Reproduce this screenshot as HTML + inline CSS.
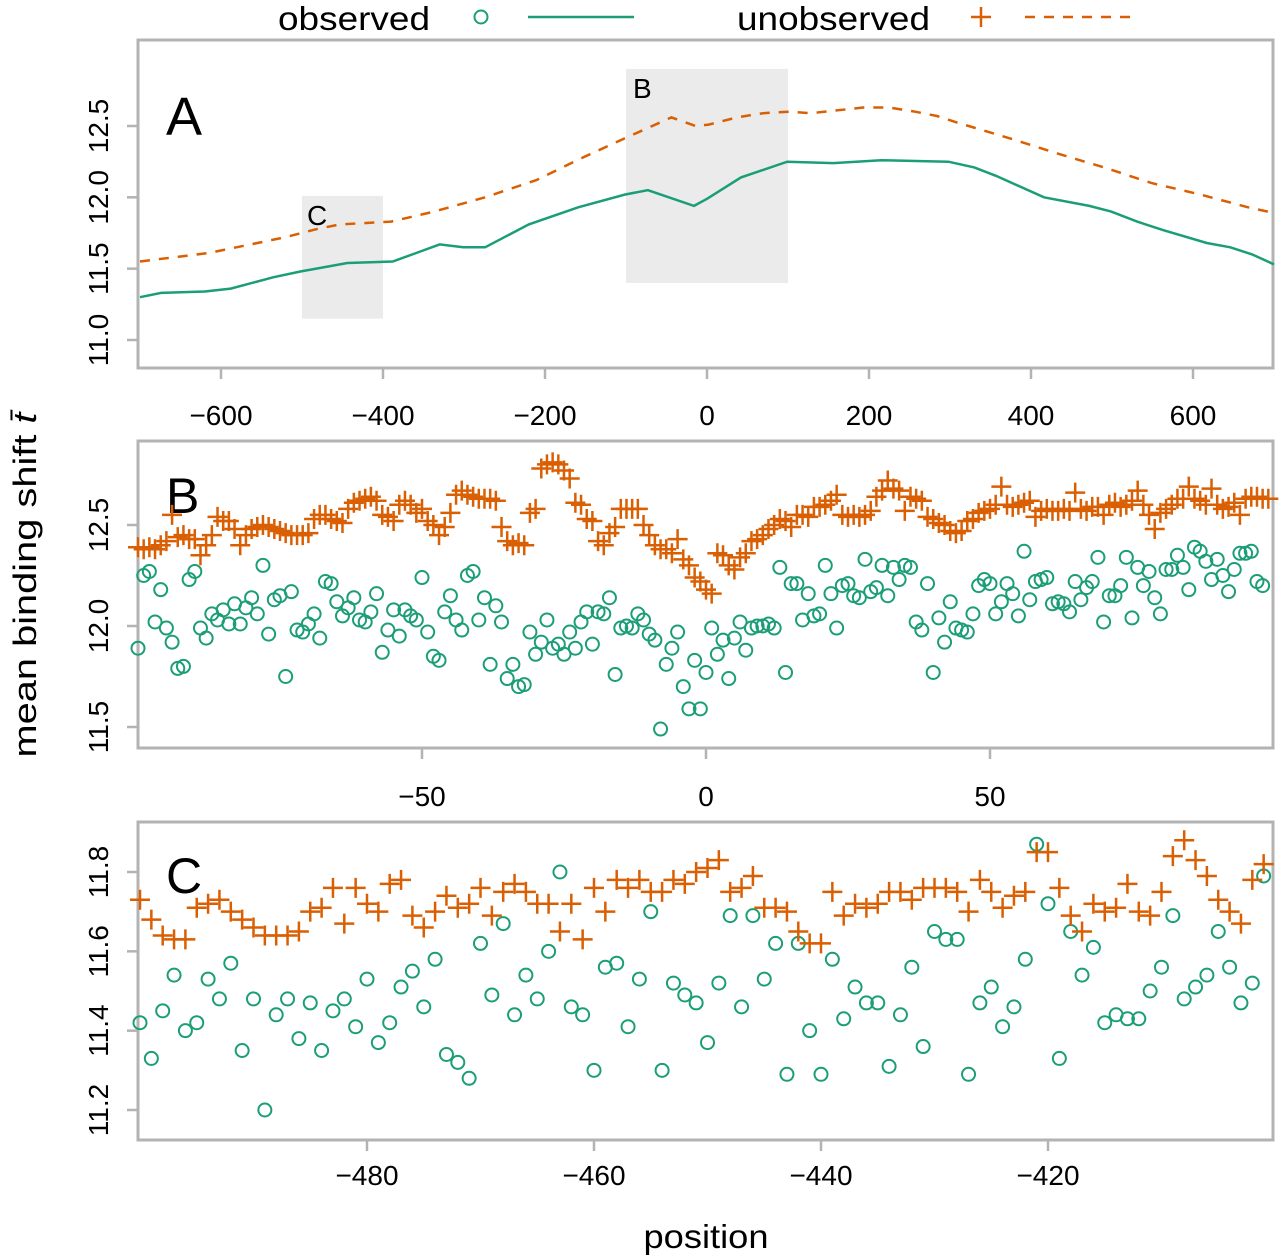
<!DOCTYPE html>
<html><head><meta charset="utf-8"><style>
html,body{margin:0;padding:0;background:#fff;}
svg{display:block;font-family:"Liberation Sans",Arial,sans-serif;}
</style></head><body>
<svg id="chart" width="1280" height="1260" viewBox="0 0 1280 1260" xmlns="http://www.w3.org/2000/svg">
<g id="legend">
  <text x="278" y="30" font-size="33" textLength="152" lengthAdjust="spacingAndGlyphs">observed</text>
  <circle cx="481" cy="17" r="6.5" fill="none" stroke="#1b9e77" stroke-width="2"/>
  <line x1="528" y1="17" x2="634" y2="17" stroke="#1b9e77" stroke-width="2.5"/>
  <text x="737" y="30" font-size="33" textLength="193" lengthAdjust="spacingAndGlyphs">unobserved</text>
  <path d="M971 17H991M981 7V27" stroke="#d95f02" stroke-width="2.5"/>
  <line x1="1025" y1="17" x2="1135" y2="17" stroke="#d95f02" stroke-width="2.5" stroke-dasharray="10,9"/>
</g>
<text transform="translate(36,585) rotate(-90)" text-anchor="middle" font-size="32" textLength="345" lengthAdjust="spacingAndGlyphs">mean binding shift <tspan font-style="italic">t̄</tspan></text>
<text x="706" y="1248" text-anchor="middle" font-size="33" textLength="125" lengthAdjust="spacingAndGlyphs">position</text>
</svg>
<script>
// ---------- Panel A data ----------
const obsAPos = [-700,-674,-620,-588,-535,-502,-444,-388,-359,-330,-301,-274,-220,-159,-101,-73,-16,0,42,99,156,215,298,330,357,416,472,499,531,563,617,646,673,700];
const obsAVal = [11.30,11.33,11.34,11.36,11.44,11.48,11.54,11.55,11.61,11.67,11.65,11.65,11.81,11.93,12.02,12.05,11.94,11.99,12.14,12.25,12.24,12.26,12.25,12.21,12.15,12.00,11.94,11.90,11.83,11.77,11.68,11.65,11.60,11.53];
const unobsAPos = [-700,-615,-521,-480,-453,-390,-337,-274,-211,-153,-99,-44,-14,2,37,69,101,128,193,225,257,284,311,370,431,490,549,609,668,700];
const unobsAVal = [11.55,11.61,11.72,11.78,11.81,11.83,11.90,12.00,12.12,12.28,12.42,12.56,12.50,12.51,12.56,12.59,12.60,12.59,12.63,12.63,12.60,12.57,12.52,12.42,12.31,12.21,12.10,12.02,11.93,11.89];
const aXTicks = [-600,-400,-200,0,200,400,600];
const aYTicks = [11.0,11.5,12.0,12.5];
// ---------- Panel B data (positions -100..99) ----------
const bStart = -100;
const obsBVal = [11.89,12.25,12.27,12.02,12.18,11.99,11.92,11.79,11.80,12.23,12.27,11.99,11.94,12.06,12.03,12.08,12.01,12.11,12.01,12.09,12.14,12.06,12.30,11.96,12.13,12.15,11.75,12.17,11.98,11.97,12.01,12.06,11.94,12.22,12.21,12.12,12.05,12.09,12.14,12.03,12.02,12.07,12.16,11.87,11.98,12.08,11.95,12.08,12.05,
12.03,12.24,11.97,11.85,11.83,12.07,12.15,12.03,11.98,12.25,12.27,12.03,12.14,11.81,12.10,12.02,11.74,11.81,11.70,11.71,11.97,11.86,11.92,12.03,11.89,11.91,11.86,11.97,11.89,12.02,12.07,11.91,12.07,12.06,12.14,11.76,11.99,12.00,11.99,12.06,12.03,11.96,11.93,11.49,11.81,11.89,11.97,11.70,11.59,11.83,11.59,
11.77,11.99,11.86,11.93,11.74,11.94,12.02,11.88,11.99,12.00,12.00,12.01,11.99,12.29,11.77,12.21,12.21,12.03,12.16,12.05,12.06,12.30,12.16,11.99,12.20,12.21,12.15,12.14,12.33,12.17,12.19,12.30,12.15,12.29,12.23,12.30,12.29,12.02,11.98,12.21,11.77,12.04,11.92,12.12,11.99,11.98,11.97,12.06,12.20,12.23,
12.21,12.06,12.12,12.21,12.16,12.05,12.37,12.13,12.22,12.23,12.24,12.11,12.12,12.11,12.07,12.22,12.13,12.19,12.22,12.34,12.02,12.15,12.15,12.20,12.34,12.04,12.29,12.20,12.27,12.14,12.06,12.28,12.28,12.35,12.29,12.18,12.39,12.37,12.32,12.23,12.33,12.25,12.17,12.28,12.36,12.36,12.37,12.22,12.20];
const unobsBVal = [12.39,12.38,12.39,12.38,12.40,12.42,12.55,12.44,12.45,12.43,12.43,12.35,12.40,12.45,12.54,12.52,12.52,12.48,12.40,12.45,12.48,12.49,12.50,12.49,12.48,12.47,12.46,12.45,12.45,12.45,12.46,12.53,12.55,12.55,12.53,12.52,12.51,12.58,12.61,12.62,12.63,12.64,12.62,12.55,12.54,12.52,12.60,12.62,
12.60,12.56,12.58,12.52,12.50,12.45,12.49,12.56,12.65,12.67,12.65,12.64,12.63,12.63,12.63,12.62,12.49,12.42,12.40,12.41,12.40,12.56,12.58,12.78,12.80,12.81,12.80,12.77,12.73,12.61,12.60,12.53,12.52,12.42,12.40,12.46,12.49,12.58,12.58,12.58,12.58,12.50,12.45,12.40,12.38,12.38,12.36,12.43,12.33,12.30,12.24,12.22,
12.18,12.16,12.36,12.35,12.30,12.28,12.34,12.36,12.42,12.43,12.45,12.48,12.50,12.53,12.52,12.49,12.55,12.55,12.54,12.59,12.59,12.60,12.62,12.65,12.55,12.54,12.55,12.54,12.55,12.57,12.64,12.67,12.72,12.68,12.67,12.57,12.64,12.63,12.62,12.54,12.53,12.51,12.50,12.47,12.46,12.47,12.52,12.53,12.56,12.57,12.58,
12.60,12.69,12.60,12.59,12.60,12.61,12.62,12.54,12.57,12.58,12.57,12.57,12.58,12.57,12.66,12.58,12.57,12.59,12.59,12.55,12.60,12.61,12.59,12.60,12.62,12.67,12.60,12.55,12.48,12.56,12.58,12.60,12.63,12.63,12.69,12.63,12.62,12.60,12.68,12.60,12.58,12.59,12.61,12.55,12.63,12.64,12.64,12.63,12.63];
const bXTicks = [-50,0,50];
const bYTicks = [11.5,12.0,12.5];
// ---------- Panel C data (positions -500..-401) ----------
const cStart = -500;
const obsCVal = [11.42,11.33,11.45,11.54,11.40,11.42,11.53,11.48,11.57,11.35,11.48,11.20,11.44,11.48,11.38,11.47,11.35,11.45,11.48,11.41,
11.53,11.37,11.42,11.51,11.55,11.46,11.58,11.34,11.32,11.28,11.62,11.49,11.67,11.44,11.54,11.48,11.60,11.80,11.46,11.44,
11.30,11.56,11.57,11.41,11.53,11.70,11.30,11.52,11.49,11.47,11.37,11.52,11.69,11.46,11.69,11.53,11.62,11.29,11.62,11.40,
11.29,11.58,11.43,11.51,11.47,11.47,11.31,11.44,11.56,11.36,11.65,11.63,11.63,11.29,11.47,11.51,11.41,11.46,11.58,11.87,
11.72,11.33,11.65,11.54,11.61,11.42,11.44,11.43,11.43,11.50,11.56,11.69,11.48,11.51,11.54,11.65,11.56,11.47,11.52,11.79];
const unobsCVal = [11.73,11.68,11.64,11.63,11.63,11.71,11.72,11.73,11.70,11.68,11.66,11.64,11.64,11.64,11.65,11.70,11.71,11.76,11.67,11.76,
11.72,11.70,11.77,11.78,11.69,11.66,11.70,11.74,11.71,11.72,11.76,11.69,11.75,11.77,11.75,11.72,11.72,11.65,11.72,11.63,
11.76,11.70,11.78,11.76,11.78,11.75,11.75,11.78,11.77,11.80,11.81,11.83,11.75,11.76,11.79,11.71,11.71,11.70,11.65,11.62,
11.62,11.75,11.69,11.72,11.71,11.72,11.75,11.75,11.73,11.76,11.76,11.76,11.75,11.70,11.78,11.75,11.71,11.74,11.75,11.85,
11.85,11.76,11.69,11.65,11.72,11.70,11.71,11.77,11.70,11.69,11.75,11.84,11.88,11.83,11.79,11.73,11.70,11.67,11.78,11.82];
const cXTicks = [-480,-460,-440,-420];
const cYTicks = [11.2,11.4,11.6,11.8];

const NS = 'http://www.w3.org/2000/svg';
const svg = document.getElementById('chart');
const GREEN = '#1b9e77', ORANGE = '#d95f02';
function mk(tag, attrs, parent) {
  const e = document.createElementNS(NS, tag);
  for (const k in attrs) e.setAttribute(k, attrs[k]);
  (parent || svg).appendChild(e);
  return e;
}
function scale(d0, d1, r0, r1) { return v => r0 + (v - d0) / (d1 - d0) * (r1 - r0); }

function panel(name, box, xs, ys, xTicks, yTicks, labOff) {
  const g = mk('g', {});
  
  
  const frame = mk('rect', {x: box.x0, y: box.y0, width: box.x1 - box.x0, height: box.y1 - box.y0, fill: 'none', stroke: '#b3b3b3', 'stroke-width': 3}, g);
  
  
  xTicks.forEach(t => {
    const x = xs(t);
    const tk = mk('line', {x1: x, x2: x, y1: box.y1, y2: box.y1 + 11, stroke: '#b3b3b3', 'stroke-width': 2.5}, g);
    
    
    const lb = mk('text', {x: x, y: box.y1 + labOff, 'text-anchor': 'middle', 'font-size': 28}, g);
    
    
    lb.textContent = String(t).replace('-', '\u2212');
  });
  yTicks.forEach(t => {
    const y = ys(t);
    const tk = mk('line', {x1: box.x0 - 11, x2: box.x0, y1: y, y2: y, stroke: '#b3b3b3', 'stroke-width': 2.5}, g);
    
    
    const lb = mk('text', {transform: 'translate(' + (box.x0 - 30) + ',' + y + ') rotate(-90)', 'text-anchor': 'middle', 'font-size': 28}, g);
    
    
    lb.textContent = t.toFixed(1);
  });
  return g;
}
function lineSeries(g, pos, val, xs, ys, color, dash, nm) {
  const d = pos.map((p, i) => (i ? 'L' : 'M') + xs(p).toFixed(1) + ' ' + ys(val[i]).toFixed(1)).join('');
  const p = mk('path', {d: d, fill: 'none', stroke: color, 'stroke-width': 2.5}, g);
  if (dash) p.setAttribute('stroke-dasharray', dash);
  
  
}
function circles(g, start, val, xs, ys, nm) {
  val.forEach((v, i) => {
    const c = mk('circle', {cx: xs(start + i), cy: ys(v), r: 6.5, fill: 'none', stroke: GREEN, 'stroke-width': 2}, g);
    
    
  });
}
function pluses(g, start, val, xs, ys, nm) {
  val.forEach((v, i) => {
    const x = xs(start + i), y = ys(v);
    const p = mk('path', {d: 'M' + (x - 10) + ' ' + y + 'H' + (x + 10) + 'M' + x + ' ' + (y - 10) + 'V' + (y + 10), stroke: ORANGE, 'stroke-width': 2.5, fill: 'none'}, g);
    
    
  });
}

// Panel A
const boxA = {x0: 138, y0: 40, x1: 1273, y1: 368};
const xA = scale(-700, 700, 140, 1274), yA = scale(11.0, 12.5, 340, 126);
const gA = panel('a', boxA, xA, yA, aXTicks, aYTicks, 57);
const rectB = mk('rect', {x: xA(-100), y: yA(12.9), width: xA(100) - xA(-100), height: yA(11.4) - yA(12.9), fill: '#ebebeb'}, gA);


const rectC = mk('rect', {x: xA(-500), y: yA(12.01), width: xA(-400) - xA(-500), height: yA(11.15) - yA(12.01), fill: '#ebebeb'}, gA);


gA.insertBefore(rectC, gA.firstChild);
gA.insertBefore(rectB, gA.firstChild);
const lbB = mk('text', {x: 633, y: 98, 'font-size': 28}, gA); lbB.textContent = 'B';


const lbC = mk('text', {x: 307, y: 225, 'font-size': 28}, gA); lbC.textContent = 'C';


const tA = mk('text', {x: 166, y: 135, 'font-size': 54}, gA); tA.textContent = 'A';


lineSeries(gA, unobsAPos, unobsAVal, xA, yA, ORANGE, '10,9', 'unobserved-line');
lineSeries(gA, obsAPos, obsAVal, xA, yA, GREEN, null, 'observed-line');

// Panel B
const boxB = {x0: 138, y0: 441, x1: 1273, y1: 748};
const xB = scale(0, 50, 706, 990), yB = scale(12.0, 12.5, 626, 525);
const gB = panel('b', boxB, xB, yB, bXTicks, bYTicks, 58);
const tB = mk('text', {x: 166, y: 513, 'font-size': 50}, gB); tB.textContent = 'B';


circles(gB, bStart, obsBVal, xB, yB, 'observed-point');
pluses(gB, bStart, unobsBVal, xB, yB, 'unobserved-point');

// Panel C
const boxC = {x0: 138, y0: 822, x1: 1273, y1: 1140};
const xC = scale(-480, -420, 367, 1048), yC = scale(11.2, 11.8, 1110, 872);
const gC = panel('c', boxC, xC, yC, cXTicks, cYTicks, 45);
const tC = mk('text', {x: 166, y: 893, 'font-size': 50}, gC); tC.textContent = 'C';


circles(gC, cStart, obsCVal, xC, yC, 'observed-point');
pluses(gC, cStart, unobsCVal, xC, yC, 'unobserved-point');
</script>
</body></html>
